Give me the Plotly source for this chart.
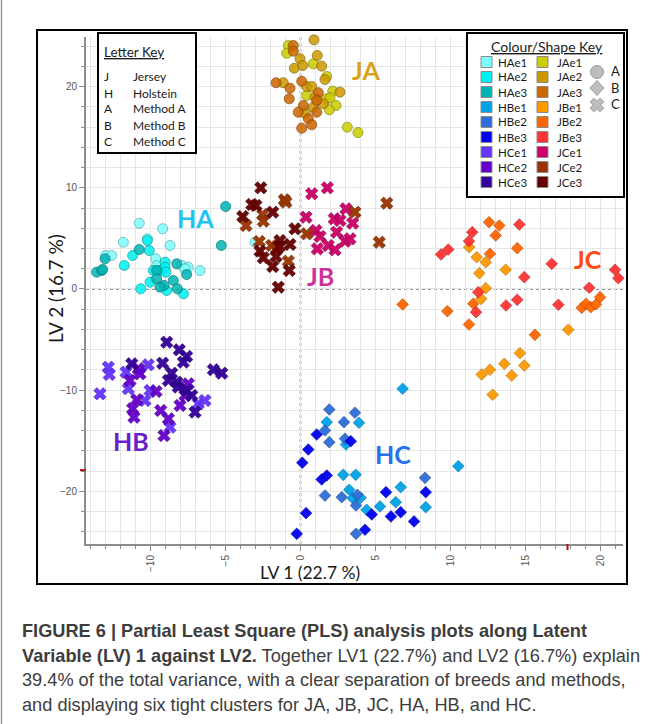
import numpy as np
import plotly.graph_objects as go

# ---------------- LV1 / LV2 scores per breed / method / extraction group ----------------
HAe1_x = [-12.99, -12.59, -11.81, -10.75, -10.21, -9.65, -9.59, -9.19, -8.70, -7.92, -7.48, -6.70, -3.03, -7.70]
HAe1_y = [3.31, 3.31, 4.62, 6.50, 4.96, 2.98, 2.32, 5.95, 4.30, 2.32, 2.15, 1.83, 4.62, 2.00]
HAe2_x = [-11.75, -11.19, -10.65, -10.21, -10.08, -9.81, -9.37, -9.03, -9.03, -8.97, -8.92, -7.81, -10.03]
HAe2_y = [2.32, 3.31, 0.02, 4.79, 3.80, 1.83, 1.83, 2.65, 2.15, 1.66, -0.15, -0.47, 0.67]
HAe3_x = [-13.59, -13.25, -13.19, -13.03, -10.75, -9.59, -9.59, -9.10, -8.48, -8.25, -8.21, -7.59, -4.99, -5.28, -9.37]
HAe3_y = [1.66, 1.83, 1.93, 2.98, 3.90, 1.83, 1.01, 0.35, 0.84, 2.49, 0.02, 1.43, 8.15, 4.30, 0.18]

HBe1_x = [6.81, 10.52, 1.75, 3.90, 3.03, 2.85, 3.68, 3.25, 3.48, 4.01, 4.41, 5.30, 6.68, 6.35, 8.35]
HBe1_y = [-9.86, -17.51, -13.16, -13.22, -15.37, -18.36, -18.36, -19.84, -20.67, -20.63, -21.82, -21.49, -19.58, -21.07, -21.56]
HBe2_x = [1.92, 3.63, 2.90, 1.63, 1.92, 2.97, 1.63, 2.75, 3.79, 3.70, 8.30, 3.70]
HBe2_y = [-11.91, -12.23, -13.16, -13.98, -15.14, -14.80, -20.41, -20.57, -20.34, -21.39, -18.66, -24.19]
HBe3_x = [1.08, 3.35, 0.52, 0.12, 1.41, 1.75, 4.75, 5.70, 6.68, 6.03, 7.57, 8.35, 0.37, -0.25, 4.30]
HBe3_y = [-14.38, -15.04, -15.86, -17.17, -18.82, -18.43, -22.28, -20.08, -22.06, -22.48, -22.97, -20.08, -22.15, -24.19, -23.79]

HCe1_x = [-13.37, -12.81, -12.75, -11.63, -11.48, -10.15, -10.37, -10.03, -6.81, -6.37, -8.70]
HCe1_y = [-10.36, -7.73, -8.45, -8.22, -9.86, -7.49, -11.02, -10.03, -11.34, -11.02, -13.66]
HCe2_x = [-11.37, -10.81, -10.70, -10.92, -9.63, -11.19, -11.10, -7.48, -8.03, -9.32, -8.81, -9.10, -7.70]
HCe2_y = [-9.04, -7.89, -8.38, -10.95, -10.13, -11.84, -12.67, -9.37, -11.51, -12.01, -12.83, -14.48, -10.52]
HCe3_x = [-11.25, -9.19, -8.92, -8.08, -7.59, -7.81, -8.59, -8.81, -8.25, -8.15, -7.59, -7.25, -7.03, -5.81, -5.25]
HCe3_y = [-7.39, -7.33, -5.26, -6.01, -6.67, -7.23, -8.32, -9.04, -9.21, -9.70, -10.03, -10.52, -12.17, -7.98, -8.32]

JAe1_x = [-0.81, -0.92, 0.85, 1.75, 2.15, 1.75, 2.37, 1.92, 3.12, 3.83, 0.41, 1.97]
JAe1_y = [24.06, 23.30, 22.25, 21.00, 19.55, 18.79, 18.13, 17.71, 15.99, 15.46, 19.12, 18.90]
JAe2_x = [0.90, 1.12, -0.03, 1.41, -0.41, 0.15, 1.63, -1.15, 0.41, 0.75, 2.63, 0.97, 1.52, 0.85, 0.30]
JAe2_y = [24.62, 23.07, 22.75, 22.02, 21.82, 22.09, 20.70, 20.38, 20.01, 20.01, 19.45, 18.95, 18.30, 17.96, 17.37]
JAe3_x = [-0.48, -0.48, -1.63, -0.70, 0.08, -0.75, 1.19, 1.08, 0.19, -0.15, 1.08, 0.52, 0.75, 0.08]
JAe3_y = [24.06, 23.50, 20.38, 19.84, 20.53, 18.79, 19.39, 18.63, 18.13, 17.47, 17.47, 16.82, 16.23, 15.89]

JBe1_x = [11.25, 11.75, 12.35, 11.92, 12.35, 12.05, 13.68, 17.85, 14.63, 13.59, 14.92, 14.08, 12.63, 12.08, 12.81]
JBe1_y = [4.13, 3.14, 2.65, 1.56, 0.08, -0.97, 1.90, -4.03, -6.34, -7.39, -7.56, -8.55, -7.98, -8.45, -10.45]
JBe2_x = [6.81, 9.79, 12.57, 13.25, 13.01, 12.63, 11.52, 11.23, 14.45, 15.63, 18.75, 19.03, 19.35, 19.70, 19.97]
JBe2_y = [-1.53, -2.19, 6.60, 6.27, 5.29, 3.48, -1.46, -3.51, 4.03, -4.53, -1.86, -1.46, -1.80, -1.53, -0.81]
JBe3_x = [9.37, 9.85, 11.23, 11.45, 11.85, 11.70, 14.59, 14.92, 13.70, 14.45, 16.75, 17.19, 19.25, 20.97, 21.19]
JBe3_y = [3.41, 3.90, 4.72, 5.61, -0.32, -2.29, 6.37, 1.17, -1.63, -1.07, 2.49, -1.56, 0.12, 1.90, 1.07]

JCe1_x = [0.37, 0.75, 1.79, 1.03, 1.30, 1.12, 1.85, 2.30, 2.41, 2.25, 2.63, 3.03, 3.48, 2.97, 3.30]
JCe1_y = [7.09, 9.41, 10.00, 5.78, 5.19, 3.97, 4.30, 3.87, 5.61, 6.94, 6.77, 7.92, 6.50, 4.72, 4.96]
JCe2_x = [-3.63, -2.52, -2.48, -1.08, -0.97, -2.75, -1.92, -1.59, -0.81, 0.41, 3.63, 5.25, 5.75]
JCe2_y = [6.27, 7.36, 6.70, 8.81, 8.58, 4.69, 4.30, 3.97, 2.75, 5.45, 7.59, 4.62, 8.48]
JCe3_x = [-2.65, -3.25, -2.97, -3.85, -1.85, -0.37, -2.70, -2.48, -1.37, -1.41, -0.70, -1.63, -1.85, -0.75, -1.48]
JCe3_y = [10.00, 8.35, 8.25, 7.16, 7.59, 5.95, 3.74, 3.08, 4.79, 4.20, 4.40, 3.21, 2.22, 1.83, 0.18]

GROUPS = [
    ("HAe1", HAe1_x, HAe1_y), ("HAe2", HAe2_x, HAe2_y), ("HAe3", HAe3_x, HAe3_y),
    ("HBe1", HBe1_x, HBe1_y), ("HBe2", HBe2_x, HBe2_y), ("HBe3", HBe3_x, HBe3_y),
    ("HCe1", HCe1_x, HCe1_y), ("HCe2", HCe2_x, HCe2_y), ("HCe3", HCe3_x, HCe3_y),
    ("JAe1", JAe1_x, JAe1_y), ("JAe2", JAe2_x, JAe2_y), ("JAe3", JAe3_x, JAe3_y),
    ("JBe1", JBe1_x, JBe1_y), ("JBe2", JBe2_x, JBe2_y), ("JBe3", JBe3_x, JBe3_y),
    ("JCe1", JCe1_x, JCe1_y), ("JCe2", JCe2_x, JCe2_y), ("JCe3", JCe3_x, JCe3_y),
]

COLORS = {
    "HAe1": "#7FFFFF", "HAe2": "#00F0F0", "HAe3": "#00B4B4",
    "HBe1": "#00A2E8", "HBe2": "#2E6DD8", "HBe3": "#0000F0",
    "HCe1": "#6633FF", "HCe2": "#6600CC", "HCe3": "#330099",
    "JAe1": "#CCCC00", "JAe2": "#CC9900", "JAe3": "#CC6600",
    "JBe1": "#FF9900", "JBe2": "#FF6600", "JBe3": "#FF3333",
    "JCe1": "#CC0066", "JCe2": "#993300", "JCe3": "#660000",
}

# letter in the group name -> marker shape (method A/B/C)
SYMBOLS = {"A": "circle", "B": "diamond", "C": "x"}
SIZES = {"A": 10, "B": 9, "C": 11}

# cluster labels placed beside the clusters
CLUSTER_NAMES = ["JA", "HA", "JB", "JC", "HB", "HC"]
CLUSTER_POS_X = [4.37, -6.97, 1.30, 19.17, -11.3, 6.17]
CLUSTER_POS_Y = [21.6, 6.97, 1.24, 3.01, -15.07, -16.35]
CLUSTER_COLORS = ["#D9A21B", "#1EC3F3", "#CC3399", "#FF4A14", "#6A1FCF", "#2672EC"]

LETTER_KEY = [("J", "Jersey"), ("H", "Holstein"), ("A", "Method A"), ("B", "Method B"), ("C", "Method C")]

CAPTION = [
    "<b>FIGURE 6 | Partial Least Square (PLS) analysis plots along Latent</b>",
    "<b>Variable (LV) 1 against LV2.</b> Together LV1 (22.7%) and LV2 (16.7%) explain",
    "39.4% of the total variance, with a clear separation of breeds and methods,",
    "and displaying six tight clusters for JA, JB, JC, HA, HB, and HC.",
]

# ---------------- geometry helpers ----------------
W, H = 655, 724
PL, PR, PT, PB = 86, 623, 37, 544          # plot-area edges in page pixels


def px(xp):
    return (xp - PL) / (PR - PL)


def py(yp):
    return (PB - yp) / (PB - PT)


def darker(hexcol, f=0.68):
    r, g, b = (int(hexcol[i:i + 2], 16) for i in (1, 3, 5))
    return "rgb(%d,%d,%d)" % (r * f, g * f, b * f)


def note(x, y, text, size, color="#1a1a1a", family="Lato", xanchor="center", **kw):
    return dict(x=px(x), y=py(y), xref="paper", yref="paper", text=text, showarrow=False,
                xanchor=xanchor, yanchor="middle",
                font=dict(family=family, size=size, color=color), **kw)


fig = go.Figure()

for name, xs, ys in GROUPS:
    m = name[1]
    col = COLORS[name]
    fig.add_trace(go.Scatter(
        x=xs, y=ys, mode="markers", name=name, showlegend=False,
        marker=dict(symbol=SYMBOLS[m], size=SIZES[m], color=col,
                    opacity=0.85 if m == "A" else 0.95,
                    line=dict(color=darker(col), width=0.9 if m == "A" else 0.6)),
        cliponaxis=False,
    ))

shapes = []
ann = []

# dotted zero lines
shapes.append(dict(type="line", xref="x", yref="paper", x0=0, x1=0, y0=0, y1=1,
                   line=dict(color="#707070", width=1.6, dash="dot"), layer="below"))
shapes.append(dict(type="line", xref="paper", yref="y", x0=0, x1=1, y0=0, y1=0,
                   line=dict(color="#707070", width=1.6, dash="dot"), layer="below"))

# outer frame of the chart panel and left page rule
shapes.append(dict(type="rect", xref="paper", yref="paper",
                   x0=px(37), x1=px(627), y0=py(584), y1=py(30),
                   line=dict(color="black", width=2)))
shapes.append(dict(type="line", xref="paper", yref="paper",
                   x0=px(1.5), x1=px(1.5), y0=py(724), y1=py(0),
                   line=dict(color="#9a9a9a", width=1.5)))

# small red tick marks on both axes
shapes.append(dict(type="line", xref="x", yref="paper", x0=17.8, x1=17.8,
                   y0=py(544), y1=py(550), line=dict(color="#b01010", width=2)))
shapes.append(dict(type="line", xref="paper", yref="y", x0=px(80), x1=px(86),
                   y0=-17.9, y1=-17.9, line=dict(color="#b01010", width=2)))

# cluster labels
for nm, cx, cy, cc in zip(CLUSTER_NAMES, CLUSTER_POS_X, CLUSTER_POS_Y, CLUSTER_COLORS):
    ann.append(dict(x=cx, y=cy, xref="x", yref="y", text="<b>%s</b>" % nm, showarrow=False,
                    xanchor="center", yanchor="middle",
                    font=dict(family="Lato", size=25, color=cc)))

# ---- letter key box ----
shapes.append(dict(type="rect", xref="paper", yref="paper",
                   x0=px(98), x1=px(196), y0=py(153), y1=py(33),
                   line=dict(color="black", width=2), fillcolor="white"))
ann.append(note(102, 52, "<u>Letter Key</u>", 13.5, xanchor="left"))
for i, (k, v) in enumerate(LETTER_KEY):
    yy = 77 + 16 * i
    ann.append(note(102, yy, k, 12, xanchor="left"))
    ann.append(note(131, yy, v, 12, xanchor="left"))

# ---- colour / shape key box ----
shapes.append(dict(type="rect", xref="paper", yref="paper",
                   x0=px(467), x1=px(624), y0=py(197), y1=py(33),
                   line=dict(color="black", width=2), fillcolor="white"))
ann.append(note(547, 47, "<u>Colour/Shape Key</u>", 14))
names = [g[0] for g in GROUPS]
cols_split = [names[:9], names[9:]]
for c, (sx, tx) in enumerate([(481, 496), (537, 555)]):
    for r, nm in enumerate(cols_split[c]):
        cy = 62 + 15 * r
        shapes.append(dict(type="rect", xref="paper", yref="paper",
                           x0=px(sx), x1=px(sx + 11), y0=py(cy + 5.5), y1=py(cy - 5.5),
                           fillcolor=COLORS[nm], line=dict(color="#8a8a8a", width=1)))
        ann.append(note(tx, cy, nm, 11.5, xanchor="left"))

# shape glyphs for methods A / B / C
grey_fill, grey_line = "#bdbdbd", "#9c9c9c"
shapes.append(dict(type="circle", xref="paper", yref="paper", xsizemode="pixel", ysizemode="pixel",
                   xanchor=px(597), yanchor=py(72), x0=-6.5, x1=6.5, y0=-6.5, y1=6.5,
                   fillcolor=grey_fill, line=dict(color=grey_line, width=1)))
shapes.append(dict(type="path", xref="paper", yref="paper", xsizemode="pixel", ysizemode="pixel",
                   xanchor=px(597), yanchor=py(88),
                   path="M 0,7.5 L 7,0 L 0,-7.5 L -7,0 Z",
                   fillcolor=grey_fill, line=dict(color=grey_line, width=1)))
a, L = 2.6, 7.0
plus = np.array([(a, L), (-a, L), (-a, a), (-L, a), (-L, -a), (-a, -a), (-a, -L), (a, -L),
                 (a, -a), (L, -a), (L, a), (a, a)])
rot = np.array([[np.cos(np.pi / 4), -np.sin(np.pi / 4)], [np.sin(np.pi / 4), np.cos(np.pi / 4)]])
xpts = plus @ rot.T
cross_path = "M " + " L ".join("%.2f,%.2f" % (p[0], p[1]) for p in xpts) + " Z"
shapes.append(dict(type="path", xref="paper", yref="paper", xsizemode="pixel", ysizemode="pixel",
                   xanchor=px(597), yanchor=py(105), path=cross_path,
                   fillcolor=grey_fill, line=dict(color=grey_line, width=1)))
for letter, yy in zip(["A", "B", "C"], [71, 88, 104]):
    ann.append(note(609, yy, letter, 13, xanchor="left"))

# ---- axis titles ----
ann.append(note(310, 572, "LV 1 (22.7 %)", 17.5))
ann.append(note(55, 289, "LV 2 (16.7 %)", 19, textangle=-90))

# ---- caption ----
for i, line in enumerate(CAPTION):
    ann.append(note(20, 631 + 24.5 * i, line, 18.2, color="#3d3d3d",
                    family="Liberation Sans", xanchor="left", align="left"))

axis_common = dict(showline=True, linecolor="#8c8c8c", linewidth=2, ticks="outside",
                   tickcolor="#8c8c8c", ticklen=5, tickwidth=1.2, showgrid=True,
                   gridcolor="#e6e6e6", gridwidth=1.2, zeroline=False,
                   tickfont=dict(family="Liberation Sans", size=10, color="#555555"))

fig.update_layout(
    width=W, height=H,
    margin=dict(l=PL, r=W - PR, t=PT, b=H - PB, pad=0),
    paper_bgcolor="white", plot_bgcolor="white",
    showlegend=False,
    xaxis=dict(range=[-14.3, 21.5], tick0=0, dtick=5, tickangle=-90,
               minor=dict(dtick=1, showgrid=True, gridcolor="#e6e6e6", ticks="outside",
                          ticklen=3, tickcolor="#8c8c8c"),
               **axis_common),
    yaxis=dict(range=[-25.2, 24.9], tick0=0, dtick=10,
               minor=dict(dtick=2, showgrid=True, gridcolor="#e6e6e6", ticks="outside",
                          ticklen=3, tickcolor="#8c8c8c"),
               **axis_common),
    shapes=shapes,
    annotations=ann,
)

fig.write_html("out.html")
